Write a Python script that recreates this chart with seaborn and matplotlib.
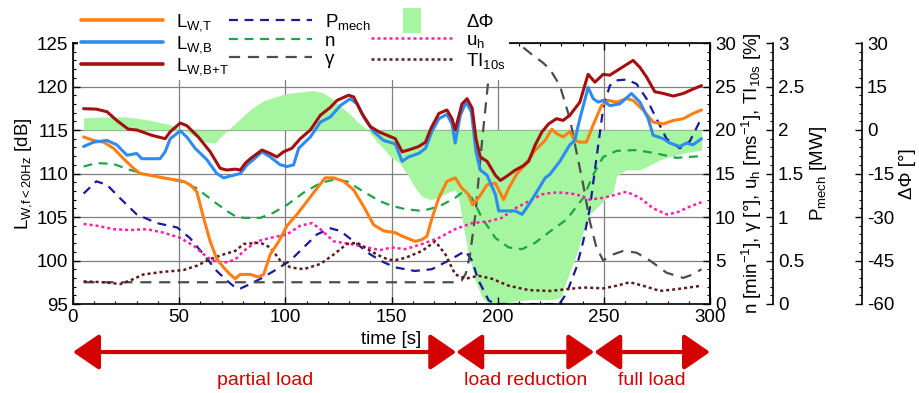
import matplotlib
matplotlib.use("Agg")
import matplotlib.pyplot as plt
import matplotlib.transforms as mtransforms
from matplotlib.lines import Line2D
from matplotlib.ticker import MultipleLocator
import seaborn as sns


# values

# sound power levels [dB]
t_bt = [5, 11, 16, 20.6, 26, 30, 32.4, 37, 43.4, 45.8, 50.5, 53.6, 59, 64.6, 69.3, 72.4, 76.4,
        78.8, 81.2, 83.5, 89, 92.9, 96, 99.2, 103.1, 107, 111.8, 116.5, 121.2, 124.3, 129.8,
        132.2, 136.1, 140, 144, 147.9, 151.8, 155, 158, 162.8, 166, 168.6, 172.3, 176.1, 178.5,
        180, 183.2, 185.6, 188, 189.8, 191.8, 195, 198.9, 201.3, 204.4, 208.3, 211.5, 214.6,
        217.7, 220.9, 224, 227.7, 230.8, 234, 238.7, 241, 242.6, 245.8, 249.7, 252.8, 256,
        259.9, 263.8, 267, 270.1, 274, 278, 282.7, 287.4, 292, 296]
l_bt = [117.45, 117.4, 117.1, 116.1, 115.1, 115.0, 114.8, 114.4, 114.0, 114.8, 115.8, 115.5,
        114.2, 112.5, 110.6, 110.4, 110.5, 110.4, 111.2, 111.7, 112.7, 112.3, 111.9, 112.5,
        112.9, 114.0, 115.0, 116.7, 117.6, 118.4, 119.0, 118.8, 116.9, 115.4, 114.8, 114.4,
        114.0, 112.5, 112.7, 113.1, 113.6, 115.2, 116.9, 117.3, 116.3, 115.0, 118.0, 118.6,
        117.5, 114.0, 111.9, 111.4, 109.8, 109.2, 109.7, 110.4, 110.8, 111.4, 113.3, 114.8,
        115.7, 116.3, 116.1, 116.7, 118.2, 120.1, 121.4, 120.5, 121.4, 121.3, 121.8, 122.4,
        123.0, 122.2, 121.1, 119.4, 119.2, 118.9, 119.2, 119.7, 120.1]

t_b = [5, 9.7, 16, 20.6, 25.4, 30, 32.4, 36.3, 41, 43.4, 45.8, 50.5, 53.6, 57.5, 63, 67.7, 70.9,
       74, 78.8, 82, 85, 89, 92.9, 97.6, 100.8, 103.9, 106.3, 111.8, 116.5, 121.2, 125.9, 130.6,
       133.8, 136.9, 141.6, 146.3, 151.8, 155, 158, 162.8, 166, 169, 172.3, 176.1, 178.5, 180,
       182.4, 185.1, 187.6, 189.8, 191.8, 195, 198.9, 200.5, 203.6, 208.3, 211.5, 214.6, 217.7,
       222.4, 224.6, 229.3, 234, 236.3, 238.7, 241, 242.6, 245, 247.3, 249.7, 252.8, 257.5, 263,
       267, 270.9, 273.2, 278, 281.1, 285.8, 288.9, 292, 296]
l_b = [113.1, 113.6, 113.8, 113.3, 112.1, 112.3, 111.7, 111.7, 111.7, 112.5, 114.0, 114.9,
       114.2, 112.9, 111.6, 110.0, 109.5, 109.7, 110.0, 111.0, 111.6, 112.5, 111.9, 111.0,
       110.8, 111.0, 112.9, 114.2, 115.9, 116.5, 117.8, 118.6, 118.0, 116.5, 114.8, 113.8,
       113.4, 111.4, 111.9, 112.3, 112.9, 114.8, 116.3, 116.8, 115.7, 113.5, 116.7, 118.2,
       117.1, 112.5, 110.4, 109.8, 107.6, 105.7, 105.7, 105.7, 105.3, 106.4, 107.6, 109.5,
       109.9, 111.4, 113.3, 113.8, 116.3, 118.4, 119.9, 118.6, 118.2, 118.4, 117.8, 118.0,
       119.2, 118.2, 116.3, 114.4, 114.0, 113.5, 113.1, 113.5, 113.3, 114.0]

t_t = [5, 9.7, 14.4, 19.1, 23.8, 28.5, 31.6, 36.3, 42.6, 47.3, 52, 55.2, 58.3, 61.5, 64.6, 67.7,
       70.9, 74, 76.4, 78.8, 83.5, 87.4, 89.8, 92.9, 96.9, 100.8, 105.5, 110.2, 114.9, 118.8,
       122.8, 127.5, 132.2, 136.9, 141.6, 146.3, 151.8, 155, 161.2, 164.4, 166.7, 169.1, 172.3,
       176.1, 180, 183.2, 186.3, 188.2, 191, 195, 198.9, 202.8, 205.2, 209.1, 213, 217.7, 222.4,
       225.5, 227.7, 230.8, 234, 236.3, 238.7, 241.8, 245, 248.9, 252, 256, 260.7, 263.8, 268.5,
       273.2, 278, 282.7, 287.4, 292, 296]
l_t = [114.2, 113.8, 113.6, 112.9, 111.7, 110.6, 110.0, 109.8, 109.5, 109.3, 109.1, 108.7,
       107.9, 104.9, 102.2, 100.2, 99.2, 98.4, 97.9, 98.4, 98.4, 98.1, 98.4, 100.7, 102.2,
       104.0, 105.3, 106.8, 108.3, 109.5, 109.5, 109.1, 108.1, 106.2, 104.1, 103.4, 103.2,
       102.8, 102.2, 102.4, 102.8, 104.9, 107.2, 109.1, 109.5, 108.3, 107.6, 106.4, 107.2,
       108.7, 108.9, 107.0, 108.3, 110.0, 111.0, 112.7, 113.8, 115.1, 114.6, 114.2, 114.8,
       113.8, 113.6, 113.6, 115.6, 117.8, 118.4, 118.2, 118.6, 118.4, 117.3, 115.9, 115.7,
       116.1, 116.3, 116.9, 117.3]

# mechanical power [MW]
t_p = [5, 11, 16, 22, 30, 39.5, 49, 55, 61.5, 67.7, 72.4, 76.4, 79, 83.5, 89.8, 96, 102.4,
       108.6, 114.9, 121.2, 125.9, 132.2, 140, 146.3, 152, 161, 169, 177, 184.8, 187.9, 191,
       195.8, 199, 229, 232.4, 237.1, 240.3, 243.4, 246.5, 249.7, 252.8, 256, 260.7, 265.4,
       270.1, 274.8, 279.5, 285.8, 290.5, 295]
p_mech = [1.27, 1.41, 1.37, 1.22, 1.03, 0.93, 0.88, 0.76, 0.57, 0.38, 0.27, 0.19, 0.18, 0.23,
          0.31, 0.40, 0.50, 0.65, 0.80, 0.87, 0.84, 0.72, 0.57, 0.48, 0.42, 0.38, 0.40, 0.50,
          0.61, 0.50, 0.27, 0.04, 0.0, 0.0, 0.12, 0.42, 0.72, 1.10, 1.67, 2.25, 2.51, 2.57,
          2.58, 2.53, 2.36, 2.13, 1.90, 1.79, 1.87, 2.09]

# rotor speed [1/min]
t_n = [5, 11, 19, 27, 35, 42.6, 50.5, 58.3, 66.2, 72.4, 76.4, 80.4, 88.2, 94.5, 100.8, 108.6,
       116.5, 122.8, 129, 136.9, 144.7, 150, 156.5, 164.4, 172.3, 180, 183.2, 187.9, 192.6,
       198.9, 205.2, 211.5, 217.7, 225, 232.4, 240.3, 245, 249.7, 256, 265.4, 274.8, 284.2, 296]
n_rot = [15.8, 16.2, 16.1, 15.4, 14.85, 14.5, 14.1, 13.3, 11.8, 10.7, 10.1, 9.9, 9.9, 10.5,
         11.4, 12.8, 13.9, 14.3, 14.1, 12.9, 11.8, 11.3, 10.9, 10.7, 11.2, 12.2, 12.8, 12.2,
         9.9, 7.6, 6.5, 6.3, 7.05, 8.4, 9.7, 12.2, 14.85, 16.9, 17.6, 17.7, 17.3, 16.8, 17.0]

# yaw misalignment [deg]
t_g = [5, 180, 183, 185, 187, 189.5, 192.6, 195.8, 198.5, 201, 204, 208, 212, 217, 221, 224.6,
       229.3, 234, 237.1, 240.3, 243.4, 246.5, 249.7, 254.4, 259.1, 265.4, 271.7, 279.5, 287.4,
       292, 296]
gamma = [2.5, 2.5, 2.7, 3.5, 5.7, 10.3, 18.6, 26.2, 29.5, 31, 31.5, 30.3, 29.5, 28.5, 27.8,
         27.0, 25.1, 21.3, 17.5, 13.7, 9.5, 6.5, 5.0, 5.7, 6.1, 5.9, 5.0, 3.6, 3.0, 3.4, 4.0]

# wind speed at hub height [m/s]
t_u = [5, 11.2, 19.1, 26.9, 34.8, 42.6, 50.5, 56.8, 63, 67.7, 72.4, 76.4, 80.4, 86.7, 92.9,
       100.8, 107, 112.6, 116.5, 122.8, 130.6, 138.5, 144.7, 150, 156.5, 164.4, 172.3, 180,
       187.9, 195.8, 202, 208.3, 214.6, 220.9, 226, 230.8, 237.1, 243.4, 249.7, 256, 260.7, 267,
       273.2, 279.5, 284.2, 290.5, 296]
u_h = [9.2, 9.0, 8.6, 8.5, 8.6, 8.2, 7.6, 6.7, 5.4, 4.8, 4.8, 5.1, 6.1, 7.2, 7.6, 8.0, 9.0, 9.3,
       8.6, 7.2, 6.9, 6.5, 6.2, 6.5, 6.3, 6.9, 7.6, 8.6, 9.3, 9.5, 9.9, 11.0, 11.8, 12.6, 12.8,
       12.8, 12.6, 12.0, 12.2, 12.6, 12.9, 12.2, 11.0, 10.3, 10.5, 11.2, 11.7]

# turbulence intensity [%]
t_ti = [5, 14.4, 22.2, 26.9, 33.2, 42.6, 52, 58.3, 64.6, 70.9, 76.4, 80.4, 88.2, 92.9, 97.6,
        102.4, 108.6, 116.5, 122.8, 129, 133.8, 140, 146.3, 151, 156.5, 164.4, 170.6, 175.4,
        180, 184.8, 191, 197.3, 205.2, 214.6, 224.6, 232.4, 240.3, 249.7, 256, 262.2, 268.5,
        276.4, 284.2, 296]
ti_10s = [2.6, 2.5, 2.3, 2.7, 3.4, 3.7, 3.9, 4.4, 5.15, 5.7, 6.1, 6.9, 7.05, 6.5, 5.0, 4.2, 4.0,
          4.6, 5.7, 6.9, 7.05, 6.1, 5.3, 5.0, 5.3, 6.1, 7.2, 5.7, 3.4, 2.9, 3.25, 2.9, 2.1, 1.6,
          1.5, 1.7, 1.9, 1.8, 2.1, 2.5, 2.1, 1.5, 1.7, 2.1]

# phase difference [deg]
t_phi = [5, 15, 25, 35, 45, 52, 58, 63, 67, 70, 73, 79, 84, 90, 100, 107, 113, 118, 122.5, 126,
         130.4, 134, 138.3, 142, 146, 150, 154, 158, 161.2, 164.4, 168.3, 172.3, 176.1, 180,
         181.6, 184, 186.3, 189.5, 192.6, 195.8, 202, 208, 215, 222, 226, 230, 232.4, 235, 237.1,
         240.3, 243.4, 248.1, 251.3, 254.4, 256, 260.7, 267, 271.7, 276.4, 281.1, 287.4, 292, 296]
d_phi = [4.2, 4.5, 4.5, 3.5, 2.0, 0, -2.5, -4.3, -4.5, -2, 0, 4.0, 7.4, 10.2, 12.5, 13.1, 13.6,
         12.8, 10.5, 8.2, 5.5, 2.8, 0.3, -3, -6.3, -9.5, -11.5, -16, -20, -22.9, -24.0, -23.2,
         -21.7, -20.6, -23.4, -33.7, -42.8, -52, -57.6, -60, -60, -59, -58.5, -58.5, -58.5,
         -57.5, -52, -47, -43, -35, -29.1, -25.8, -23.4, -21.2, -15.9, -13.7, -13.7, -12.1,
         -10.3, -9.2, -8.0, -7.4, -6.9]

# operating phases along the time axis
phase_edges = [0, 180.5, 245.5, 300]
phase_names = ["partial load", "load reduction", "full load"]

#colours
c_t = "#ff7f14"
c_b = "#2e8bf0"
c_bt = "#a31010"
c_p = "#1a1a9c"
c_n = "#1fa348"
c_g = "#4d4d4d"
c_phi = "#a6f5a0"
c_u = "#ff1fa8"
c_ti = "#5c1c1c"
c_red = "#d40000"


#style
sns.set_style("ticks", {"xtick.direction": "in", "ytick.direction": "in"})
plt.rcParams["font.family"] = ["Liberation Sans", "DejaVu Sans"]
plt.rcParams["mathtext.fontset"] = "custom"
plt.rcParams["mathtext.rm"] = "Liberation Sans"
plt.rcParams["mathtext.it"] = "Liberation Sans:italic"
plt.rcParams["font.size"] = 13.5
for key in ["text.color", "axes.labelcolor", "xtick.color", "ytick.color",
            "xtick.labelcolor", "ytick.labelcolor"]:
    plt.rcParams[key] = "black"
fs = 13.5

fig = plt.figure(figsize=(9.2, 3.93), dpi=100)
ax = fig.add_axes([73 / 920, 1 - 304 / 393, 637 / 920, 261 / 393])
ax_phi = ax.twinx()
ax_p = ax.twinx()
ax_n = ax.twinx()

# stacking: fill at the bottom, sound levels on top
for z, a in enumerate([ax_phi, ax_p, ax_n, ax]):
    a.set_zorder(z + 1)
    a.patch.set_visible(False)
    for s in a.spines.values():
        s.set_linewidth(1.2)
        s.set_color("black")

#phase difference fill + grid
ax_phi.fill_between(t_phi, 0, d_phi, color=c_phi, lw=0)
ax_phi.set_ylim(-60, 30)
ax_phi.yaxis.set_major_locator(MultipleLocator(15))
ax_phi.yaxis.set_minor_locator(MultipleLocator(3))
ax_phi.yaxis.set_major_formatter(lambda v, pos: f"{v:g}")
ax_phi.spines["right"].set_position(("axes", 1.239))
for s in ["left", "top", "bottom"]:
    ax_phi.spines[s].set_visible(False)
ax_phi.xaxis.set_visible(True)
ax_phi.grid(True, color="#808080", lw=0.9)
ax_phi.set_ylabel("ΔΦ [°]", fontsize=fs, labelpad=3)

#mechanical power
sns.lineplot(x=t_p, y=p_mech, ax=ax_p, color=c_p, lw=1.6, linestyle=(0, (4, 3)))
ax_p.set_ylim(0, 3)
ax_p.yaxis.set_major_locator(MultipleLocator(0.5))
ax_p.yaxis.set_minor_locator(MultipleLocator(0.1))
ax_p.yaxis.set_major_formatter(lambda v, pos: f"{v:g}")
ax_p.spines["right"].set_position(("axes", 1.099))
for s in ["left", "top", "bottom"]:
    ax_p.spines[s].set_visible(False)
ax_p.set_ylabel("P$_{\\mathrm{mech}}$ [MW]", fontsize=fs, labelpad=3)

#n, gamma, u_h, TI
sns.lineplot(x=t_n, y=n_rot, ax=ax_n, color=c_n, lw=1.6, linestyle=(0, (4, 3)))
sns.lineplot(x=t_g, y=gamma, ax=ax_n, color=c_g, lw=1.6, linestyle=(0, (5, 3.5)))
sns.lineplot(x=t_u, y=u_h, ax=ax_n, color=c_u, lw=1.8, linestyle=(0, (1.2, 1.2)))
sns.lineplot(x=t_ti, y=ti_10s, ax=ax_n, color=c_ti, lw=1.8, linestyle=(0, (1.2, 1.2)))
ax_n.set_ylim(0, 30)
ax_n.yaxis.set_major_locator(MultipleLocator(5))
ax_n.yaxis.set_minor_locator(MultipleLocator(1))
for s in ["left", "top", "bottom"]:
    ax_n.spines[s].set_visible(False)
ax_n.set_ylabel("n [min$^{-1}$], γ [°], u$_{\\mathrm{h}}$ [ms$^{-1}$], TI$_{\\mathrm{10s}}$ [%]",
                fontsize=fs, labelpad=3)

#sound power levels
sns.lineplot(x=t_t, y=l_t, ax=ax, color=c_t, lw=2.2)
sns.lineplot(x=t_b, y=l_b, ax=ax, color=c_b, lw=2.2)
sns.lineplot(x=t_bt, y=l_bt, ax=ax, color=c_bt, lw=2.2)
ax.set_xlim(0, 300)
ax.set_ylim(95, 125)
ax.xaxis.set_major_locator(MultipleLocator(50))
ax.xaxis.set_minor_locator(MultipleLocator(10))
ax.yaxis.set_major_locator(MultipleLocator(5))
ax.yaxis.set_minor_locator(MultipleLocator(1))
ax.set_xlabel("time [s]", fontsize=fs, labelpad=4)
ax.set_ylabel("L$_{\\mathrm{W{,}f{<}20Hz}}$ [dB]", fontsize=fs, labelpad=2)

for a in [ax, ax_p, ax_n, ax_phi]:
    a.tick_params(which="major", direction="in", length=5, width=1, labelsize=fs,
                  color="black", labelcolor="black")
    a.tick_params(which="minor", direction="in", length=2.5, width=0.8, color="black")
ax.tick_params(which="both", top=True, right=False)
ax_phi.tick_params(axis="x", which="both", bottom=False, top=False, labelbottom=False)

#legend
handles = [
    Line2D([], [], color=c_t, lw=2.6),
    Line2D([], [], color=c_b, lw=2.6),
    Line2D([], [], color=c_bt, lw=2.6),
    Line2D([], [], color=c_p, lw=1.6, linestyle=(0, (4, 3))),
    Line2D([], [], color=c_n, lw=1.6, linestyle=(0, (4, 3))),
    Line2D([], [], color=c_g, lw=1.6, linestyle=(0, (5, 3.5))),
    Line2D([], [], color=c_phi, linestyle="none", markeredgewidth=0, markersize=18,
           marker=[(-0.7, -1), (0.7, -1), (0.7, 1), (-0.7, 1), (-0.7, -1)]),
    Line2D([], [], color=c_u, lw=1.8, linestyle=(0, (1.2, 1.2))),
    Line2D([], [], color=c_ti, lw=1.8, linestyle=(0, (1.2, 1.2))),
]
labels = ["L$_{\\mathrm{W{,}T}}$", "L$_{\\mathrm{W{,}B}}$", "L$_{\\mathrm{W{,}B{+}T}}$",
          "P$_{\\mathrm{mech}}$", "n", "γ",
          "ΔΦ", "u$_{\\mathrm{h}}$", "TI$_{\\mathrm{10s}}$"]
leg = ax.legend(handles, labels, ncol=3, loc="upper left",
                bbox_to_anchor=(78 / 920, 1 - 9 / 393), bbox_transform=fig.transFigure,
                frameon=True, facecolor="white", edgecolor="none", framealpha=1, fancybox=False,
                borderpad=0.15, borderaxespad=0, handlelength=4.4, handletextpad=0.7,
                columnspacing=0.0, labelspacing=0.05, fontsize=fs, numpoints=1)

#phase arrows below the time axis
trans = mtransforms.blended_transform_factory(ax.transData, ax.transAxes)
for i, name in enumerate(phase_names):
    x0, x1 = phase_edges[i], phase_edges[i + 1]
    ax.annotate("", xy=(x1, -0.184), xytext=(x0, -0.184), xycoords=trans, textcoords=trans,
                annotation_clip=False,
                arrowprops=dict(arrowstyle="<|-|>,head_length=0.8,head_width=0.55",
                                mutation_scale=20, color=c_red, lw=3, shrinkA=0, shrinkB=0))
    ax.text((x0 + x1) / 2, -0.295, name, transform=trans, color=c_red, fontsize=fs + 0.5,
            ha="center", va="center", clip_on=False)

plt.savefig("out.png", dpi=100)
